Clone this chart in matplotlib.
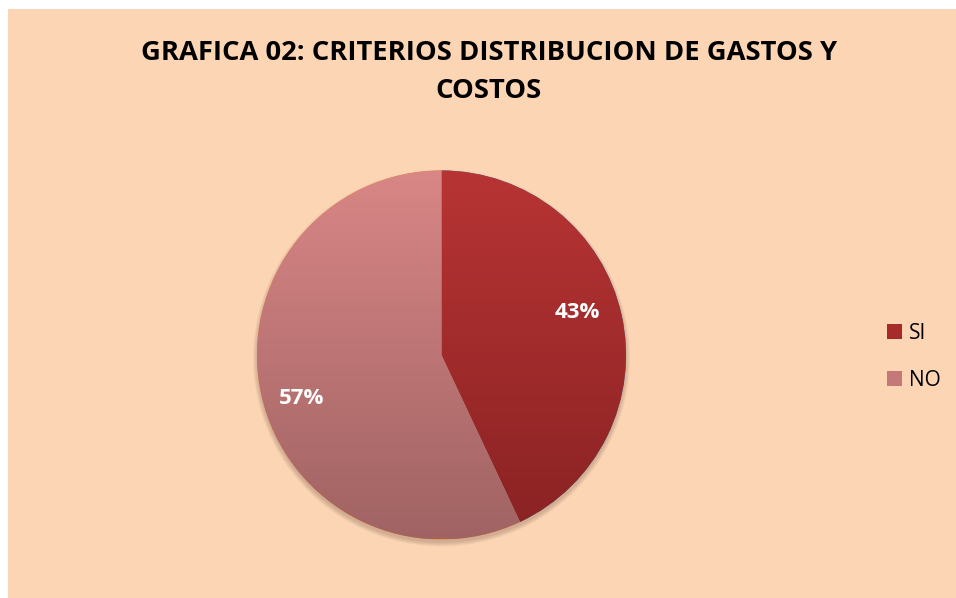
import numpy as np
import matplotlib
matplotlib.use("Agg")
import matplotlib.pyplot as plt
from matplotlib.patches import Rectangle, Circle, Patch
from matplotlib.colors import LinearSegmentedColormap

plt.rcParams['font.family'] = ['Open Sans', 'DejaVu Sans']

# data
categories = ["SI", "NO"]
values = [43, 57]
title_lines = ["GRAFICA 02: CRITERIOS DISTRIBUCION DE GASTOS Y", "COSTOS"]

# gradient colours (top, bottom) per slice
grad_colors = [("#b83434", "#892223"), ("#d98686", "#a06363")]
legend_colors = ["#a62c2c", "#c47878"]
bg = "#fcd5b5"

W, H = 956, 598
fig = plt.figure(figsize=(W / 100, H / 100), dpi=100, facecolor=bg)
# white margins at top and left
fig.patches.append(Rectangle((0, 0), 8 / W, 1, transform=fig.transFigure,
                             facecolor="white", edgecolor="none", zorder=0))
fig.patches.append(Rectangle((0, 1 - 9 / H), 1, 9 / H, transform=fig.transFigure,
                             facecolor="white", edgecolor="none", zorder=0))

ax = fig.add_axes([0, 0, 1, 1])
ax.set_facecolor("none")
ax.axis("off")

cx, cy, r = 441.5, H - 355, 184.5

# soft shadow under the pie
for k in range(6):
    ax.add_patch(Circle((cx, cy - 3), r + k * 0.8, facecolor="#7a5a48",
                        edgecolor="none", alpha=0.06, zorder=1))

wedges, texts, autotexts = ax.pie(values, startangle=90, counterclock=False,
                                  center=(cx, cy), radius=r, autopct="%1.0f%%",
                                  wedgeprops=dict(linewidth=0, zorder=2),
                                  textprops=dict(color="white", fontsize=16, fontweight="bold"))
ax.set_xlim(0, W)
ax.set_ylim(0, H)
ax.set_aspect("auto")

grad = np.linspace(0, 1, 256).reshape(-1, 1)
for w, (c_top, c_bot) in zip(wedges, grad_colors):
    cmap = LinearSegmentedColormap.from_list("g", [c_top, c_bot])
    im = ax.imshow(grad, cmap=cmap, extent=(cx - r, cx + r, cy - r, cy + r),
                   origin="upper", aspect="auto", zorder=3)
    im.set_clip_path(w)

# label placement (Excel "best fit" style)
label_dist = [0.77, 0.795]
for w, t, d in zip(wedges, autotexts, label_dist):
    ang = np.deg2rad((w.theta1 + w.theta2) / 2 + 4.8)
    t.set_position((cx + d * r * np.cos(ang), cy + d * r * np.sin(ang)))
    t.set_zorder(5)

ax.text(489, H - 53, title_lines[0], ha="center", va="center",
        fontsize=19.7, fontweight="bold", color="black")
ax.text(489, H - 91, title_lines[1], ha="center", va="center",
        fontsize=19.7, fontweight="bold", color="black")

handles = [Patch(facecolor=c, edgecolor="none") for c in legend_colors]
leg = ax.legend(handles, categories, loc="center left", bbox_to_anchor=(868 / W, 1 - 357 / H),
                frameon=False, fontsize=15, handlelength=0.75, handleheight=0.75,
                handletextpad=0.3, labelspacing=1.25)

fig.savefig("out.png", dpi=100, facecolor=bg)
